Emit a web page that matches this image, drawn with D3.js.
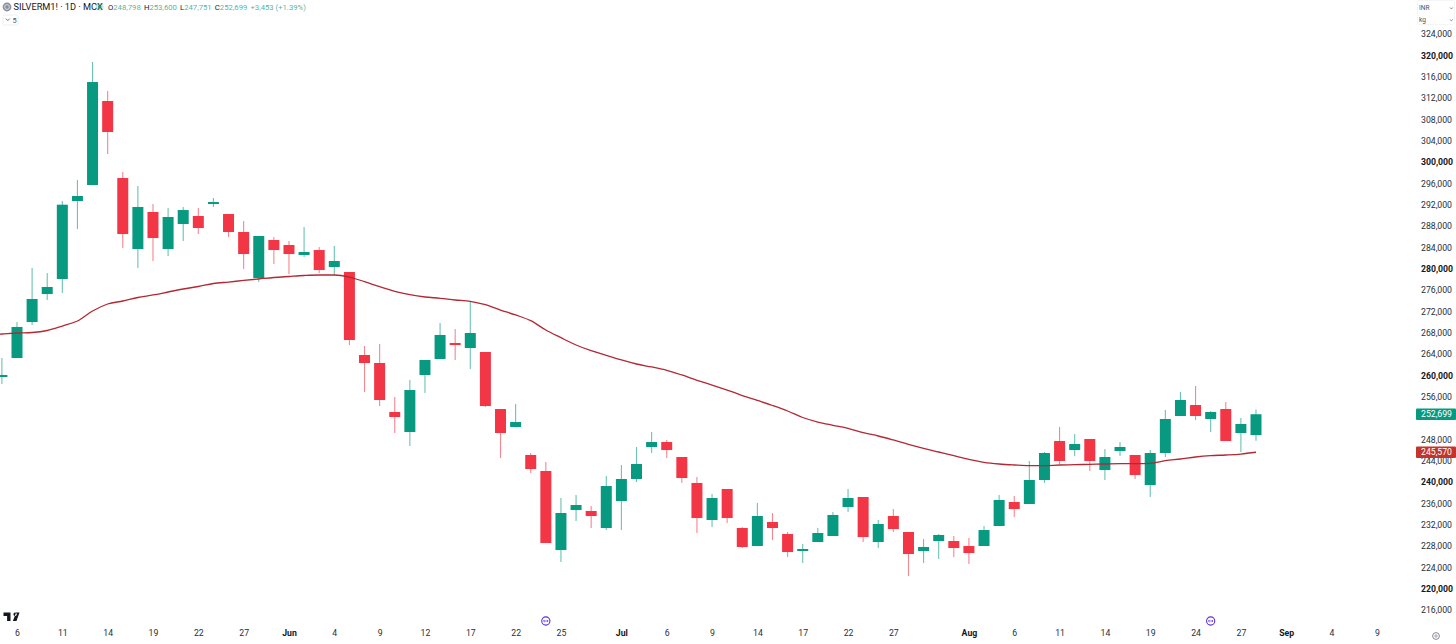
<!DOCTYPE html>
<html>
<head>
<meta charset="utf-8">
<title>SILVERM1! 1D MCX</title>
<script src="https://cdn.jsdelivr.net/npm/d3@7"></script>
<style>
  html, body { margin: 0; padding: 0; background: #fff; overflow: hidden; }
  svg { display: block; font-family: Roboto, sans-serif; }
  .axis path, .axis line { display: none; }
  .axis text { fill: #2a2e39; font-size: 8.7px; font-family: Roboto, sans-serif; }
  .axis text.major { fill: #131722; font-weight: 700; }
</style>
</head>
<body>
<script>
// candles, left to right, first one is slot -1 (cut off by the left edge)
const firstSlot = -1;
const opens = [259680, 263240, 269990, 275240, 278060, 292680, 295680, 311430, 296990, 283680, 290620, 283680, 288370, 289870, 292120, 290240, 286870, 278240, 285370, 284430, 282560, 283490, 280310, 279370, 263810, 262310, 253120, 249370, 260060, 263060, 266060, 265120, 264370, 253680, 250310, 245060, 242060, 227240, 234740, 234560, 231370, 236430, 240560, 246560, 247490, 244680, 239810, 232870, 238680, 231370, 227990, 232490, 230240, 227060, 228740, 229870, 235310, 237180, 228740, 233620, 230620, 227060, 228930, 228930, 227990, 227990, 231740, 236240, 235870, 240370, 247680, 245990, 248060, 242240, 245810, 245060, 239430, 245430, 252370, 254430, 251810, 253680, 249180, 248798];
const highs = [263240, 269990, 280120, 279180, 292680, 296620, 318740, 313310, 298120, 295490, 292120, 291370, 291560, 291370, 293240, 290240, 288930, 286120, 285930, 285180, 287810, 284060, 284240, 279370, 265490, 265870, 255930, 259120, 262870, 269810, 268680, 273740, 264370, 253680, 254620, 245430, 243740, 236990, 237560, 235490, 241120, 243180, 246560, 249370, 247870, 244680, 240930, 237740, 238680, 231560, 236060, 234180, 230620, 228370, 231370, 234370, 238680, 237180, 232870, 234930, 230620, 229310, 230240, 229870, 229490, 231740, 237560, 237370, 243930, 245620, 250310, 248990, 248060, 246180, 247490, 245060, 245990, 253490, 256870, 257990, 253310, 254990, 251990, 253600];
const lows = [258370, 263240, 269430, 274120, 275430, 287430, 295680, 301490, 283870, 280120, 281430, 282370, 285180, 286490, 291560, 285930, 279930, 277490, 280870, 278990, 282180, 279180, 278810, 265680, 256870, 254240, 249180, 246740, 256680, 263060, 262870, 261180, 254060, 244490, 250210, 241680, 228560, 224990, 232680, 231370, 230990, 230990, 239990, 245430, 244490, 239810, 230430, 231560, 232310, 227620, 227990, 229120, 225930, 224810, 228740, 229870, 234370, 228740, 227620, 230620, 222370, 224810, 225560, 225930, 224620, 227990, 231740, 233430, 235870, 239810, 243370, 244870, 242060, 240370, 244870, 240560, 237180, 244680, 252370, 251620, 249370, 247680, 245620, 247751];
const closes = [260060, 269060, 274310, 276560, 291990, 293620, 314990, 305620, 286490, 291560, 285740, 289680, 290990, 287620, 292490, 286870, 282740, 286120, 283490, 282740, 283120, 279740, 281430, 266620, 262310, 255370, 252180, 257240, 262870, 267560, 265680, 267930, 254240, 249180, 251240, 242430, 228560, 234180, 235680, 233620, 239240, 240560, 243370, 247490, 245990, 240740, 233240, 236990, 233240, 227810, 233620, 231370, 226870, 227430, 230430, 233810, 236990, 229680, 232120, 231180, 226490, 227810, 230060, 227620, 226680, 230990, 236620, 234930, 240370, 245430, 243930, 247120, 243930, 244680, 246560, 241310, 245430, 251810, 255370, 252370, 253120, 247680, 250870, 252699];

// moving average, first value is slot -2
const maFirstSlot = -2;
const maValues = [267560, 267740, 267930, 268030, 268400, 269240, 270180, 272060, 273370, 273930, 274590, 275060, 275620, 276180, 276650, 277210, 277490, 277780, 278060, 278340, 278530, 278710, 278810, 278810, 278430, 277550, 276610, 275750, 275110, 274680, 274440, 274120, 273880, 273240, 272240, 271310, 270240, 268490, 267050, 265680, 264610, 263750, 262870, 262120, 261560, 260940, 260060, 259060, 258180, 257240, 256210, 255280, 254340, 253310, 252090, 251240, 250630, 250060, 249240, 248620, 247870, 247060, 246310, 245620, 244930, 244250, 243690, 243370, 243180, 243050, 243050, 243180, 243240, 243310, 243370, 243430, 243430, 243500, 243990, 244310, 244680, 244930, 245060, 245240, 245570];

// axes, 252,000 sits behind the last price label so it is left out
const priceTicks = d3.range(216000, 324001, 4000).filter(d => d !== 252000);
const majorPrices = [220000, 240000, 260000, 280000, 300000, 320000];
const timeLabels = ['6', '11', '14', '19', '22', '27', 'Jun', '4', '9', '12', '17', '22', '25', 'Jul', '6', '9', '14', '17', '22', '27', 'Aug', '6', '11', '14', '19', '24', '27', 'Sep', '4', '9'];
const timeSlots = [0, 3, 6, 9, 12, 15, 18, 21, 24, 27, 30, 33, 36, 40, 43, 46, 49, 52, 55, 58, 63, 66, 69, 72, 75, 78, 81, 84, 87, 90];
const majorTimes = ['Jun', 'Jul', 'Aug', 'Sep'];
const eventSlots = [35, 79];

const lastPrice = 252699;
const lastMa = 245570;
const legendValues = [['O', '248,798'], ['H', '253,600'], ['L', '247,751'], ['C', '252,699']];

const upColor = '#089981';
const downColor = '#f23645';
const maColor = '#b22833';

const width = 1456;
const height = 644;

const x = d3.scaleLinear().domain([0, 82]).range([17, 1256]);
const y = d3.scaleLinear().domain([216000, 324000]).range([609.97, 33.97]);

const svg = d3.select('body')
  .append('svg')
  .attr('width', width)
  .attr('height', height);

const candles = opens.map((o, i) => ({
  slot: firstSlot + i,
  open: o,
  high: highs[i],
  low: lows[i],
  close: closes[i]
}));

const candleColor = d => d.close >= d.open ? upColor : downColor;

svg.append('g')
  .selectAll('line')
  .data(candles)
  .join('line')
  .attr('x1', d => x(d.slot))
  .attr('x2', d => x(d.slot))
  .attr('y1', d => y(d.high))
  .attr('y2', d => y(d.low))
  .attr('stroke', candleColor)
  .attr('stroke-opacity', 0.6)
  .attr('stroke-width', 1.1);

svg.append('g')
  .selectAll('rect')
  .data(candles)
  .join('rect')
  .attr('x', d => x(d.slot) - 5.5)
  .attr('width', 11)
  .attr('y', d => y(Math.max(d.open, d.close)))
  .attr('height', d => Math.max(1.5, Math.abs(y(d.open) - y(d.close))))
  .attr('fill', candleColor);

const maLine = d3.line()
  .x((d, i) => x(maFirstSlot + i))
  .y(d => y(d))
  .curve(d3.curveMonotoneX);

svg.append('path')
  .datum(maValues)
  .attr('d', maLine)
  .attr('fill', 'none')
  .attr('stroke', maColor)
  .attr('stroke-width', 1.3);

// price scale
svg.append('g')
  .attr('class', 'axis')
  .attr('transform', 'translate(1421,0)')
  .call(d3.axisRight(y).tickValues(priceTicks).tickFormat(d3.format(',')).tickSize(0).tickPadding(0))
  .selectAll('text')
  .classed('major', d => majorPrices.includes(d));

// time scale
svg.append('g')
  .attr('class', 'axis')
  .attr('transform', 'translate(0,627)')
  .call(d3.axisBottom(x).tickValues(timeSlots).tickFormat((d, i) => timeLabels[i]).tickSize(0).tickPadding(3))
  .selectAll('text')
  .classed('major', (d, i) => majorTimes.includes(timeLabels[i]));

// last value labels
const priceLabel = (value, fill) => {
  const g = svg.append('g').attr('transform', `translate(0,${y(value)})`);
  g.append('rect')
    .attr('x', 1416)
    .attr('y', -5.7)
    .attr('width', 40)
    .attr('height', 11.4)
    .attr('rx', 1)
    .attr('fill', fill);
  g.append('text')
    .attr('x', 1421)
    .attr('dy', '0.34em')
    .attr('font-size', 8.7)
    .attr('fill', '#fff')
    .text(d3.format(',')(value));
};
priceLabel(lastPrice, upColor);
priceLabel(lastMa, '#c2352c');

// legend line
svg.append('circle').attr('cx', 7).attr('cy', 7).attr('r', 4.4).attr('fill', '#8a8f9c');
svg.append('circle').attr('cx', 7).attr('cy', 7).attr('r', 2.4).attr('fill', 'none').attr('stroke', '#dfe1e6').attr('stroke-width', 0.9);
svg.append('text')
  .attr('x', 13.5)
  .attr('y', 10.3)
  .attr('font-size', 9.2)
  .attr('fill', '#131722')
  .text('SILVERM1! · 1D · MCX');
svg.append('circle').attr('cx', 99.7).attr('cy', 6.8).attr('r', 4).attr('fill', upColor).attr('fill-opacity', 0.2);
svg.append('circle').attr('cx', 99.7).attr('cy', 6.8).attr('r', 1.6).attr('fill', upColor);

const legend = svg.append('text')
  .attr('x', 108)
  .attr('y', 9.9)
  .attr('font-size', 7.7)
  .attr('fill', upColor);
legendValues.forEach(d => {
  legend.append('tspan').attr('fill', '#131722').attr('dx', d[0] === 'O' ? 0 : 3.2).text(d[0]);
  legend.append('tspan').attr('fill-opacity', 0.75).text(d[1]);
});
legend.append('tspan').attr('dx', 3.2).attr('fill-opacity', 0.75).text('+3,453 (+1.39%)');

// collapsed indicators button
svg.append('rect').attr('x', 3).attr('y', 15).attr('width', 15).attr('height', 10).attr('rx', 1.5)
  .attr('fill', '#fff').attr('stroke', '#e6e8ec').attr('stroke-width', 0.7);
svg.append('path').attr('d', 'M5.8 18.6 L7.8 20.6 L9.8 18.6').attr('fill', 'none').attr('stroke', '#50535e').attr('stroke-width', 0.8);
svg.append('text').attr('x', 12.5).attr('y', 22.6).attr('font-size', 7.4).attr('fill', '#50535e').text('5');

// currency and unit box
svg.append('rect').attr('x', 1417.5).attr('y', 0.5).attr('width', 37).attr('height', 24).attr('rx', 2)
  .attr('fill', '#fff').attr('stroke', '#eef0f3').attr('stroke-width', 0.7);
[['INR', 10], ['kg', 22]].forEach(d => {
  svg.append('text').attr('x', 1419).attr('y', d[1]).attr('font-size', 6.6).attr('fill', '#50535e').text(d[0]);
  svg.append('path').attr('d', `M1450 ${d[1] - 2.5} l1.4 1.4 l1.4 -1.4`).attr('fill', 'none').attr('stroke', '#50535e').attr('stroke-width', 0.7);
});

// TradingView mark
svg.append('path')
  .attr('d', 'M4 612.5 H11 V621 H7.6 V616 H4 Z M15.6 614.2 m-1.7 0 a1.7 1.7 0 1 0 3.4 0 a1.7 1.7 0 1 0 -3.4 0 Z M13.4 621 L16.6 612.5 H20 L17 621 Z')
  .attr('transform', 'translate(-0.5,0)')
  .attr('fill', '#131722');

// event markers on the time axis
const events = svg.append('g')
  .selectAll('g')
  .data(eventSlots)
  .join('g')
  .attr('transform', d => `translate(${x(d)},621)`);
events.append('circle').attr('r', 4.1).attr('fill', '#fff').attr('stroke', '#5b2fd6').attr('stroke-width', 1.1);
events.append('path').attr('d', 'M-2.3 0 H2.3 M-1.2 -1.1 L-2.3 0 L-1.2 1.1 M1.2 -1.1 L2.3 0 L1.2 1.1')
  .attr('fill', 'none').attr('stroke', '#5b2fd6').attr('stroke-width', 0.7);

// settings icon bottom right
svg.append('circle').attr('cx', 1436).attr('cy', 636).attr('r', 3.4).attr('fill', 'none').attr('stroke', '#6a6d78').attr('stroke-width', 0.8);
svg.append('circle').attr('cx', 1436).attr('cy', 636).attr('r', 1.2).attr('fill', 'none').attr('stroke', '#6a6d78').attr('stroke-width', 0.6);
</script>
</body>
</html>
